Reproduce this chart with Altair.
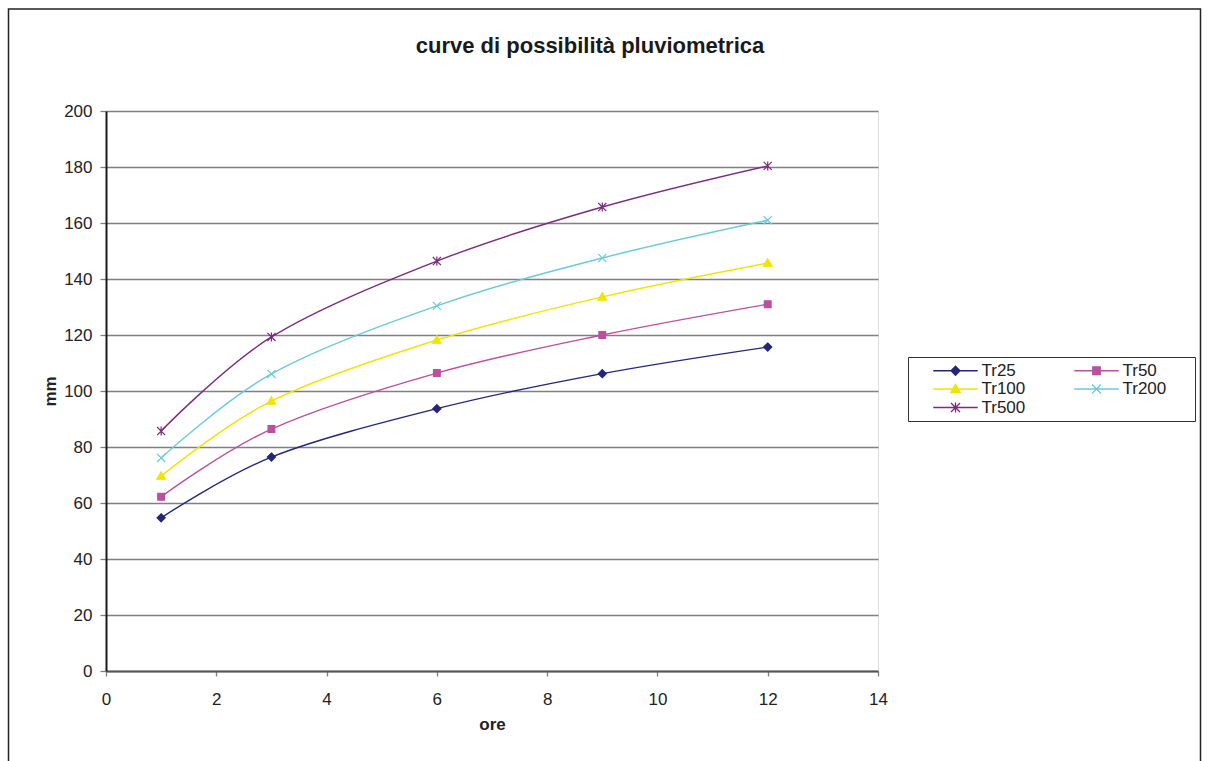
import altair as alt
import pandas as pd

# durata della pioggia (ore) e altezze di pioggia (mm) per tempo di ritorno
ore = [1, 3, 6, 9, 12]
serie = ["Tr25", "Tr50", "Tr100", "Tr200", "Tr500"]
tr25 = [54.7, 76.4, 93.7, 106.2, 115.7]
tr50 = [62.2, 86.4, 106.4, 120.0, 131.0]
tr100 = [69.6, 96.4, 118.2, 133.6, 145.7]
tr200 = [76.1, 106.1, 130.4, 147.5, 161.0]
tr500 = [85.7, 119.3, 146.4, 165.7, 180.4]

colori = ["#25267a", "#bb4fa0", "#f0e400", "#6cc9dc", "#7b2a82"]
FONT = "Liberation Sans"

rows = []
for nome, valori in zip(serie, [tr25, tr50, tr100, tr200, tr500]):
    for h, v in zip(ore, valori):
        rows.append({"ore": h, "mm": v, "Serie": nome})
df = pd.DataFrame(rows)

# marker shapes in Vega's unit symbol space (size 81 -> 4.5 px per unit)
marker = [
    "M0,-0.9L0.9,0L0,0.9L-0.9,0Z",
    "M-0.75,-0.75H0.75V0.75H-0.75Z",
    "M0,-0.95L0.95,0.7L-0.95,0.7Z",
    "M-0.9,-0.9L0.9,0.9M-0.9,0.9L0.9,-0.9",
    "M-0.9,-0.9L0.9,0.9M-0.9,0.9L0.9,-0.9M0,-1L0,1",
]
# legend glyphs: marker plus a short line segment; the bare move-to widens the entry box
legend_glyph = [m + " M-4.444,0H4.444 M18.0,0" for m in marker]

# the legend fills its columns top to bottom: order entries so rows read Tr25 Tr50 / Tr100 Tr200 / Tr500
leg_order = [0, 2, 4, 1, 3]
leg_domain = [serie[i] for i in leg_order]
leg_colori = [colori[i] for i in leg_order]
leg_glyph = [legend_glyph[i] for i in leg_order]

x_enc = alt.X("ore:Q", scale=alt.Scale(domain=[0, 14], nice=False),
              axis=alt.Axis(values=list(range(0, 15, 2)), format="d", title="ore", grid=False,
                            labelFlush=False,
                            domainColor="#555555", domainWidth=2,
                            tickColor="#808080", tickSize=5, tickWidth=1.3,
                            labelFontSize=17, labelFont=FONT, labelColor="#222222",
                            labelPadding=15, titleFontSize=17, titleFont=FONT,
                            titleFontWeight="bold", titleColor="#222222", titlePadding=9))
y_enc = alt.Y("mm:Q", scale=alt.Scale(domain=[0, 200], nice=False),
              axis=alt.Axis(values=list(range(0, 201, 20)), format="d", title="mm", grid=True,
                            labelFlush=False,
                            gridColor="#808080", gridWidth=1.3,
                            domainColor="#1a1a1a", domainWidth=2,
                            tickColor="#808080", tickSize=6, tickWidth=1.3,
                            labelFontSize=17, labelFont=FONT, labelColor="#222222",
                            labelPadding=8, titleFontSize=17, titleFont=FONT,
                            titleFontWeight="bold", titleColor="#222222", titlePadding=4))


def col_scale():
    return alt.Scale(domain=serie, range=colori)


base = alt.Chart(df)

linee = base.mark_line(interpolate="cardinal", tension=0, strokeWidth=1.4).encode(
    x=x_enc, y=y_enc,
    color=alt.Color("Serie:N", scale=col_scale(), legend=None),
    detail="Serie:N",
)

punti = base.mark_point(filled=True, size=81, strokeWidth=1.2, opacity=1).encode(
    x="ore:Q", y="mm:Q",
    color=alt.Color("Serie:N", scale=col_scale(), legend=None),
    stroke=alt.Stroke("Serie:N", scale=col_scale(), legend=None),
    shape=alt.Shape("Serie:N", scale=alt.Scale(domain=serie, range=marker), legend=None),
)

leg = alt.Legend(title=None, orient="none", legendX=802, legendY=246, columns=2,
                 columnPadding=5, rowPadding=0.5, padding=5,
                 labelFontSize=17, labelFont=FONT, labelColor="#222222",
                 labelOffset=17.5, symbolOffset=34,
                 strokeColor="#333333", fillColor="white", symbolStrokeWidth=1.3)

legenda = base.mark_point(filled=True, size=81, strokeWidth=1.3).encode(
    x="ore:Q", y="mm:Q",
    color=alt.Color("Serie:N", scale=alt.Scale(domain=leg_domain, range=leg_colori), legend=leg),
    stroke=alt.Stroke("Serie:N", scale=alt.Scale(domain=leg_domain, range=leg_colori), legend=leg),
    shape=alt.Shape("Serie:N", scale=alt.Scale(domain=leg_domain, range=leg_glyph), legend=leg),
    opacity=alt.condition(alt.datum.ore < 0, alt.value(1), alt.value(0)),
)

cornice = alt.Chart(pd.DataFrame({"k": [0]})).mark_rect(
    fillOpacity=0, stroke="#222222", strokeWidth=1.5, clip=False
).encode(x=alt.value(-97.5), x2=alt.value(1094.5), y=alt.value(-102), y2=alt.value(700))

chart = alt.layer(cornice, linee, punti, legenda).resolve_scale(
    color="independent", stroke="independent", shape="independent"
).properties(
    width=772, height=560,
    title=alt.TitleParams("curve di possibilità pluviometrica", fontSize=22, font=FONT,
                          fontWeight="bold", color="#1a1a1a", anchor="middle", dx=98,
                          baseline="alphabetic", offset=-67),
    autosize=alt.AutoSizeParams(type="none"),
    padding={"left": 106, "top": 111, "right": 329, "bottom": 90},
).configure_view(stroke="#808080", strokeWidth=1.3).configure(background="white")

chart.save("out.html", embed_options={"renderer": "svg", "actions": False})
